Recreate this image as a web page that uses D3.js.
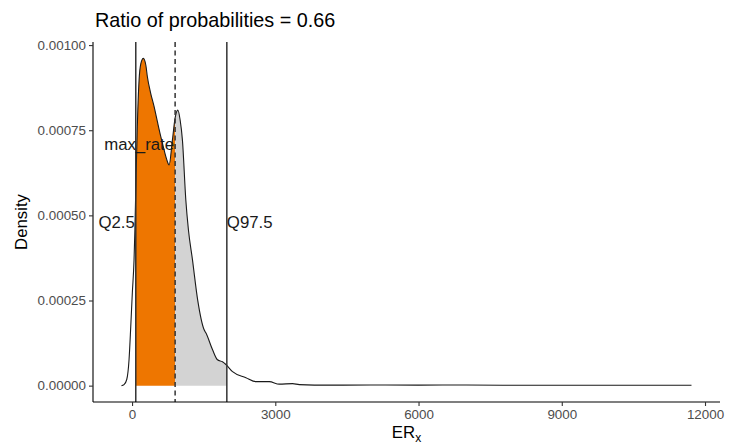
<!DOCTYPE html>
<html>
<head>
<meta charset="utf-8">
<script src="https://cdn.jsdelivr.net/npm/d3@7/dist/d3.min.js"></script>
<style>
  body { margin: 0; background: #fff; }
  svg text { font-family: "Liberation Sans", Arial, Helvetica, sans-serif; }
</style>
</head>
<body>
<svg id="chart" width="750" height="445"></svg>
<script>
// density estimate
const erValues = [-221, -168, -111, -63, -27, 6, 42, 60, 85, 110, 147, 183, 237, 290, 321, 388, 462, 531,
  602, 671, 724, 776, 845, 902, 959, 1007, 1055, 1126, 1181, 1265, 1374, 1510, 1546, 1684, 1789, 1894,
  1966, 2104, 2385, 2595, 2874, 3084, 3363, 3503, 4133, 5000, 6000, 7000, 8000, 9000, 10000, 11000, 11717];
const densityValues = [0, 0.000003, 0.000018, 0.000076, 0.000174, 0.000273, 0.00037, 0.00046, 0.00062,
  0.00076, 0.000897, 0.000945, 0.000961, 0.00094, 0.000907, 0.00086, 0.000819, 0.000775, 0.000731,
  0.000692, 0.000665, 0.000648, 0.000721, 0.000786, 0.000809, 0.00078, 0.000721, 0.000545, 0.000457,
  0.00037, 0.000252, 0.000164, 0.000155, 0.000106, 0.000076, 0.00007, 0.000062, 0.000041, 0.0000235,
  0.0000117, 0.0000117, 0.0000044, 0.0000059, 0.000003, 0.0000015, 0.000002, 0.0000015, 0.0000018,
  0.0000012, 0.000001, 0.000001, 0.0000012, 0.000001];

// reference lines
const markerNames = ['Q2.5', 'max_rate', 'Q97.5'];
const markerValues = [78, 902, 1985];
const markerLabelDensity = [0.00048, 0.00071, 0.00048];

const xTicks = [0, 3000, 6000, 9000, 12000];
const yTicks = [0, 0.00025, 0.0005, 0.00075, 0.001];
const ratio = 0.66;

const svg = d3.select('#chart');
const panel = { left: 93, right: 720, top: 42, bottom: 402 };

const points = erValues.map((x, i) => ({ x, y: densityValues[i] }));

// ggplot style 5% expansion
const expand = (lo, hi) => { const d = (hi - lo) * 0.05; return [lo - d, hi + d]; };
const x = d3.scaleLinear().domain(expand(d3.min(erValues), d3.max(erValues))).range([panel.left, panel.right]);
const y = d3.scaleLinear().domain(expand(0, d3.max(densityValues))).range([panel.bottom, panel.top]);

const curve = d3.curveMonotoneX;
const area = d3.area().x(d => x(d.x)).y0(y(0)).y1(d => y(d.y)).curve(curve);
const line = d3.line().x(d => x(d.x)).y(d => y(d.y)).curve(curve);

// fills clipped between the markers
const bands = [
  { id: 'clipLow', from: markerValues[0], to: markerValues[1], fill: '#EE7600' },
  { id: 'clipHigh', from: markerValues[1], to: markerValues[2], fill: '#D3D3D3' }
];
const defs = svg.append('defs');
bands.forEach(b => {
  defs.append('clipPath').attr('id', b.id)
    .append('rect')
    .attr('x', x(b.from)).attr('width', x(b.to) - x(b.from))
    .attr('y', panel.top).attr('height', panel.bottom - panel.top);
  svg.append('path').datum(points)
    .attr('d', area)
    .attr('fill', b.fill)
    .attr('clip-path', `url(#${b.id})`);
});

svg.append('path').datum(points)
  .attr('d', line)
  .attr('fill', 'none')
  .attr('stroke', '#1a1a1a')
  .attr('stroke-width', 1.1);

// vertical lines
svg.selectAll('line.marker').data(markerValues).enter()
  .append('line')
  .attr('class', 'marker')
  .attr('x1', d => x(d)).attr('x2', d => x(d))
  .attr('y1', panel.top).attr('y2', panel.bottom)
  .attr('stroke', '#333')
  .attr('stroke-width', 1.5)
  .attr('stroke-dasharray', (d, i) => i === 1 ? '5,3.5' : null);

svg.selectAll('text.marker').data(markerNames).enter()
  .append('text')
  .attr('class', 'marker')
  .attr('x', (d, i) => x(markerValues[i]) + (i === 2 ? 0 : -1))
  .attr('y', (d, i) => y(markerLabelDensity[i]))
  .attr('dy', '0.35em')
  .attr('text-anchor', (d, i) => i === 2 ? 'start' : 'end')
  .attr('font-size', 16.8)
  .attr('fill', '#1a1a1a')
  .text(d => d);

// axes
const xAxis = svg.append('g')
  .attr('transform', `translate(0,${panel.bottom})`)
  .call(d3.axisBottom(x).tickValues(xTicks).tickFormat(d3.format('d')).tickSize(4).tickPadding(3));
const yAxis = svg.append('g')
  .attr('transform', `translate(${panel.left},0)`)
  .call(d3.axisLeft(y).tickValues(yTicks).tickFormat(d3.format('.5f')).tickSize(4).tickPadding(3));

[xAxis, yAxis].forEach(g => {
  g.select('.domain').attr('stroke', '#000').attr('stroke-width', 1.1);
  g.selectAll('.tick line').attr('stroke', '#333').attr('stroke-width', 1.1);
  g.selectAll('.tick text').attr('fill', '#4d4d4d').attr('font-size', 13.4)
    .attr('font-family', '"Liberation Sans", Arial, sans-serif');
});
// ggplot draws the axis lines to the panel edges only
xAxis.select('.domain').attr('d', `M${panel.left},0H${panel.right}`);
yAxis.select('.domain').attr('d', `M0,${panel.top}V${panel.bottom}`);

// titles
svg.append('text')
  .attr('x', panel.left + 2).attr('y', 27)
  .attr('font-size', 19.8)
  .attr('fill', '#000')
  .text(`Ratio of probabilities = ${ratio}`);

svg.append('text')
  .attr('transform', `translate(27,${(panel.top + panel.bottom) / 2}) rotate(-90)`)
  .attr('text-anchor', 'middle')
  .attr('font-size', 16.8)
  .attr('fill', '#000')
  .text('Density');

const xTitle = svg.append('text')
  .attr('x', (panel.left + panel.right) / 2).attr('y', 438)
  .attr('text-anchor', 'middle')
  .attr('font-size', 16.8)
  .attr('fill', '#000');
xTitle.append('tspan').text('ER');
xTitle.append('tspan').attr('font-size', 12).attr('dy', 4).text('x');
</script>
</body>
</html>
